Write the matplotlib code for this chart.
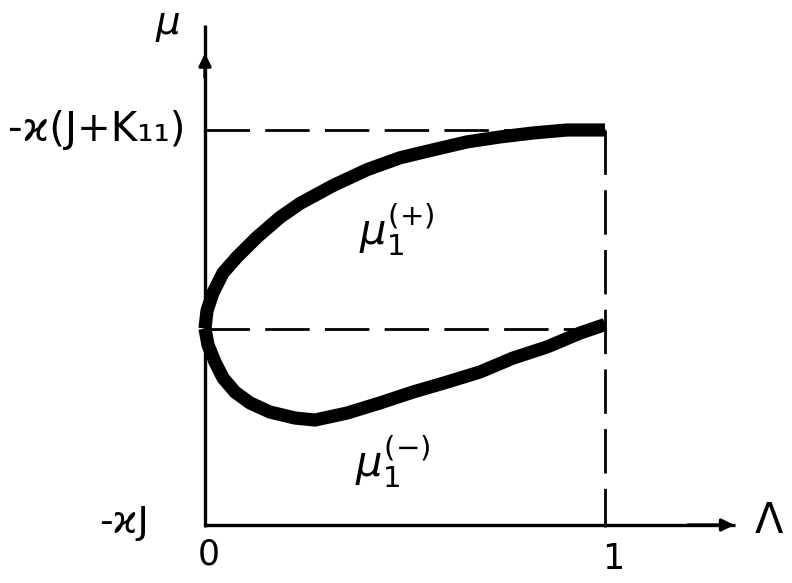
import matplotlib
matplotlib.use("Agg")
import matplotlib.pyplot as plt

# upper branch mu_1^(+) (Lambda, mu); mu in units where -xJ = 0, -x(J+K11) = 2
lam_plus = [0, .005, .02, .045, .08, .13, .1875, .2375, .32, .405, .4875, .57, .655, .7375, .82, .905, 1.0]
mu_plus = [1.0, 1.09, 1.18, 1.28, 1.36, 1.46, 1.56, 1.63, 1.72, 1.80, 1.86, 1.90, 1.94, 1.965, 1.985, 2.0, 2.0]

# lower branch mu_1^(-)
lam_minus = [0, .0075, .025, .045, .075, .1125, .1625, .225, .275, .355, .4375, .52, .605, .6875, .77, .855, .9375, 1.0]
mu_minus = [1.0, .917, .831, .751, .680, .625, .579, .549, .539, .574, .625, .680, .730, .781, .851, .907, .977, 1.02]

mu_top = 2.0      # -x(J+K11)
mu_mid = 1.0      # level where both branches start
lam_end = 1.0

fig = plt.figure(figsize=(7.92, 5.83), dpi=100)
ax = fig.add_axes([0, 0, 1, 1])
ax.set_xlim(-0.5125, 1.4675)
ax.set_ylim(-0.2821, 2.6549)
ax.axis("off")

# axes with arrows
ax.plot([0, 0], [0, 2.53], color="k", lw=2.4, solid_capstyle="butt")
ax.annotate("", xy=(0, 2.40), xytext=(0, 2.25),
            arrowprops=dict(arrowstyle="-|>", lw=2.4, color="k", mutation_scale=18))
ax.plot([0, 1.325], [0.01, 0.01], color="k", lw=2.4, solid_capstyle="butt")
ax.annotate("", xy=(1.33, 0.01), xytext=(1.2, 0.01),
            arrowprops=dict(arrowstyle="-|>", lw=2.4, color="k", mutation_scale=18))

# dashed guides
dash = dict(color="k", lw=2, dashes=(16, 5.5))
ax.plot([0, lam_end], [mu_top, mu_top], **dash)
ax.plot([0, lam_end], [mu_mid, mu_mid], **dash)
ax.plot([lam_end, lam_end], [mu_top, 0], **dash)

# branches
ax.plot(lam_plus, mu_plus, color="k", lw=9.5, solid_capstyle="butt", solid_joinstyle="round")
ax.plot(lam_minus, mu_minus, color="k", lw=9.5, solid_capstyle="butt", solid_joinstyle="round")

# labels
ax.text(-0.06, 2.53, r"$\mu$", fontsize=28, ha="right", va="center")
ax.text(-0.05, mu_top, "-ϰ(J+K₁₁)", fontsize=29, ha="right", va="center")
ax.text(-0.14, 0.02, "-ϰJ", fontsize=27, ha="right", va="center")
ax.text(0.01, -0.14, "0", fontsize=25, ha="center", va="center")
ax.text(1.02, -0.16, "1", fontsize=25, ha="center", va="center")
ax.text(1.41, 0.03, "Λ", fontsize=30, ha="center", va="center")
ax.text(0.48, 1.50, r"$\mu_1^{(+)}$", fontsize=30, ha="center", va="center")
ax.text(0.47, 0.33, r"$\mu_1^{(-)}$", fontsize=30, ha="center", va="center")

fig.savefig("out.png", dpi=100)
